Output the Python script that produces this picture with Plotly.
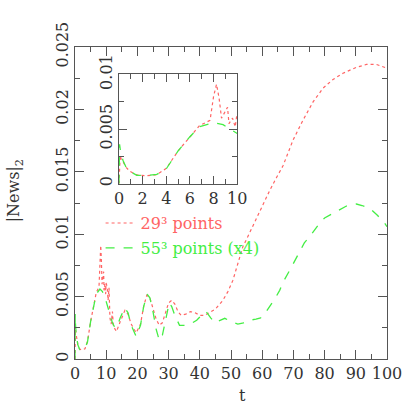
"""Gravitational wave news |News|_2 vs time, two resolutions, with zoomed inset."""

import plotly.graph_objects as go

# 29^3 points run
t_29 = [0, 0.05, 0.1, 0.2, 0.35, 0.6, 0.9, 1.5, 2.3, 3.2, 4, 5, 6, 6.8, 7.7,
        8, 8.25, 8.47, 8.67, 8.95, 9.18, 9.3, 9.6, 9.83, 9.94, 10.3, 10.6,
        10.9, 11.2, 11.6, 12, 12.3, 13.3, 14.5, 16, 17, 18, 19.6, 21, 22, 23,
        24, 25, 26, 27, 28, 29, 30, 31, 32, 33, 34, 35.5, 37, 38.5, 40, 41.5,
        43, 45, 47.4, 49, 50.6, 52, 53.8, 55, 56.5, 58.1, 60, 62.4, 64.5,
        66.7, 69.9, 73.1, 76.3, 79.5, 82.7, 85.9, 90.2, 93.4, 96.6, 100]
news_29 = [0, 0.002, 0.0026, 0.0022, 0.002, 0.0015, 0.00115, 0.0008, 0.00072,
           0.00082, 0.0014, 0.003, 0.0043, 0.0053, 0.0058, 0.008, 0.0091,
           0.0078, 0.006, 0.0065, 0.007, 0.0055, 0.006, 0.0052, 0.0061,
           0.0058, 0.0047, 0.0057, 0.0033, 0.0028, 0.0038, 0.0026, 0.0022,
           0.003, 0.0039, 0.0036, 0.0028, 0.0021, 0.0028, 0.0042, 0.0051,
           0.0049, 0.0041, 0.0032, 0.0027, 0.0029, 0.0037, 0.0045, 0.0047,
           0.0044, 0.0038, 0.0035, 0.0036, 0.0038, 0.0037, 0.0035, 0.0035,
           0.0037, 0.004, 0.0047, 0.0054, 0.0063, 0.0075, 0.009, 0.0096,
           0.0104, 0.0112, 0.0123, 0.0135, 0.0145, 0.0155, 0.01755, 0.01915,
           0.0206, 0.0217, 0.0224, 0.0229, 0.02337, 0.0236, 0.0236, 0.0233]

# 55^3 points run (scaled x4)
t_55 = [0, 0.05, 0.15, 0.35, 0.6, 0.9, 1.5, 2.3, 3.2, 4, 5, 6, 6.8, 8, 8.8,
        10, 11, 12, 12.8, 13.5, 14.5, 15.9, 17, 18, 19.6, 21, 22, 23.1, 24,
        25, 26, 27, 28, 29, 30.2, 31, 32, 33.5, 35, 37, 39, 40.5, 42, 43.5,
        44.8, 46.5, 48, 50, 52.2, 54, 56, 58, 59.5, 61, 62.5, 64, 65.6, 67,
        68.8, 70.5, 72, 73.5, 75.2, 77, 78.4, 80, 82.7, 85, 87, 90.2, 92,
        94.5, 97, 99.3, 100]
news_55 = [0, 0.0036, 0.0028, 0.0021, 0.0015, 0.00115, 0.00076, 0.00075,
           0.00085, 0.00136, 0.003, 0.0043, 0.0052, 0.0056, 0.0054, 0.0046,
           0.0037, 0.0029, 0.0025, 0.0026, 0.0033, 0.0041, 0.0037, 0.0027,
           0.0018, 0.0027, 0.0042, 0.0052, 0.0049, 0.0038, 0.0024, 0.0015,
           0.0019, 0.0032, 0.0045, 0.0042, 0.0035, 0.0027, 0.0027, 0.0028,
           0.0031, 0.0035, 0.0038, 0.0033, 0.0029, 0.0031, 0.00326, 0.003,
           0.0028, 0.0029, 0.0031, 0.0032, 0.0033, 0.0037, 0.0042, 0.0048,
           0.0055, 0.0063, 0.0071, 0.0079, 0.0087, 0.0093, 0.0098, 0.0104,
           0.01087, 0.0113, 0.01167, 0.012, 0.01226, 0.01242, 0.0123, 0.01207,
           0.0115, 0.01087, 0.0106]

x_ticks = [0, 10, 20, 30, 40, 50, 60, 70, 80, 90, 100]
y_ticks = [0, 0.005, 0.01, 0.015, 0.02, 0.025]
y_labels = ["0", "0.005", "0.01", "0.015", "0.02", "0.025"]
inset_x_ticks = [0, 2, 4, 6, 8, 10]
inset_y_ticks = [0, 0.005, 0.01]
inset_y_labels = ["0", "0.005", "0.01"]

RED = "#ff6464"
GREEN = "#44ee44"
FRAME = "#555555"
FONT = "DejaVu Serif"

fig = go.Figure()

fig.add_trace(go.Scatter(
    x=t_29, y=news_29, mode="lines",
    name=f"<span style='color:{RED}'>29³ points</span>",
    legendgroup="a",
    line={"color": RED, "width": 1.2, "dash": "dot"},
))
fig.add_trace(go.Scatter(
    x=t_55, y=news_55, mode="lines",
    name=f"<span style='color:{GREEN}'>55³ points (x4)</span>",
    legendgroup="b",
    line={"color": GREEN, "width": 1.3, "dash": "dash"},
))

# inset: same runs, first 10 time units
fig.add_trace(go.Scatter(
    x=t_29, y=news_29, mode="lines", xaxis="x2", yaxis="y2", showlegend=False,
    line={"color": RED, "width": 1.2, "dash": "dot"},
))
fig.add_trace(go.Scatter(
    x=t_55, y=news_55, mode="lines", xaxis="x2", yaxis="y2", showlegend=False,
    line={"color": GREEN, "width": 1.3, "dash": "dash"},
))

axis_common = dict(
    showline=True, linecolor=FRAME, linewidth=1, mirror="allticks",
    ticks="inside", tickcolor=FRAME, showgrid=False, zeroline=False,
    automargin=False,
    tickfont={"family": FONT, "size": 16, "color": "#333333"},
)

fig.update_layout(
    width=409,
    height=409,
    margin={"l": 75, "r": 22, "t": 47, "b": 50},
    paper_bgcolor="white",
    plot_bgcolor="white",
    font={"family": FONT, "size": 16, "color": "#333333"},
    xaxis=dict(
        axis_common, range=[0, 100], tickvals=x_ticks, ticklen=9,
        minor={"ticks": "inside", "dtick": 5, "ticklen": 5, "tickcolor": FRAME},
        domain=[0, 1],
    ),
    yaxis=dict(
        axis_common, range=[0, 0.025], tickvals=y_ticks, ticktext=y_labels,
        tickangle=-90, ticklen=9,
        minor={"ticks": "inside", "dtick": 0.0025, "ticklen": 5, "tickcolor": FRAME},
        domain=[0, 1],
    ),
    xaxis2=dict(
        axis_common, range=[0, 10], tickvals=inset_x_ticks, ticklen=8,
        minor={"ticks": "inside", "dtick": 1, "ticklen": 5, "tickcolor": FRAME},
        domain=[0.141, 0.52], anchor="y2",
    ),
    yaxis2=dict(
        axis_common, range=[0, 0.01], tickvals=inset_y_ticks,
        ticktext=inset_y_labels, tickangle=-90, ticklen=8,
        minor={"ticks": "inside", "dtick": 0.0025, "ticklen": 5, "tickcolor": FRAME},
        domain=[0.562, 0.912], anchor="x2",
    ),
    legend=dict(
        x=0.082, y=0.49, xanchor="left", yanchor="top",
        bgcolor="rgba(0,0,0,0)", tracegroupgap=1,
        font={"family": FONT, "size": 16},
    ),
    showlegend=True,
)

fig.add_annotation(
    text="|News|<sub>2</sub>", textangle=-90, showarrow=False,
    xref="paper", yref="paper", x=-0.193, y=0.54,
    xanchor="center", yanchor="middle",
    font={"family": FONT, "size": 16, "color": "#333333"},
)
fig.add_annotation(
    text="t", showarrow=False, xref="paper", yref="paper",
    x=0.537, y=-0.118, xanchor="center", yanchor="middle",
    font={"family": FONT, "size": 16, "color": "#333333"},
)

# drop the browser's default body margin so the 409px figure fills the window
fig.write_html(
    "out.html",
    config={"displayModeBar": False},
    post_script="document.body.style.margin='0';document.body.style.padding='0';",
)
